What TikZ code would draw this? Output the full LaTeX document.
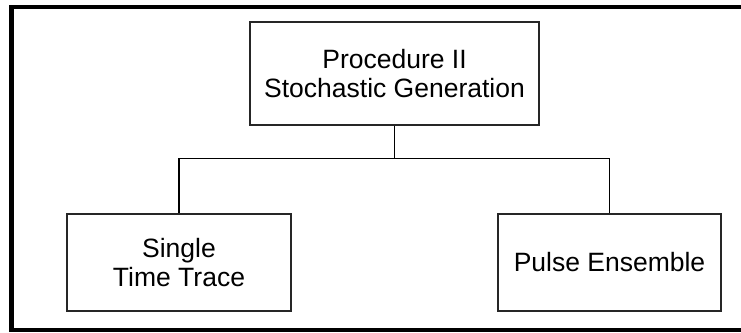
\documentclass[tikz,border=0pt]{standalone}
\usepackage{fontspec}
\setmainfont{Liberation Sans}
\usepackage{tikz}
\usetikzlibrary{positioning,calc}

\begin{document}
\begin{tikzpicture}[x=1pt, y=-1pt, font=\fontsize{26.5}{29}\selectfont]
\tikzstyle{blk}=[draw=black!85, line width=1.3pt, align=center, inner sep=0pt]
\useasboundingbox (0,0) rectangle (741,332);
% outer frame, open at the right
\draw[line width=4.5pt] (760,7) -- (11.5,7) -- (11.5,330) -- (760,330);
\node[blk, minimum width=289pt, minimum height=103pt] (proc) at (394.5,73.5) {Procedure II\\Stochastic Generation};
\node[blk, minimum width=224pt, minimum height=97pt] (trace) at (179,262.5) {Single\\Time Trace};
\node[blk, minimum width=223pt, minimum height=97pt] (ensemble) at (609.5,262.5) {Pulse Ensemble};
\coordinate (split) at ($(proc.south)+(0,33)$);
\draw[line width=1.3pt] (proc.south) -- (split);
\draw[line width=1.3pt] (split) -| (trace.north);
\draw[line width=1.3pt] (split) -| (ensemble.north);
\end{tikzpicture}
\end{document}
